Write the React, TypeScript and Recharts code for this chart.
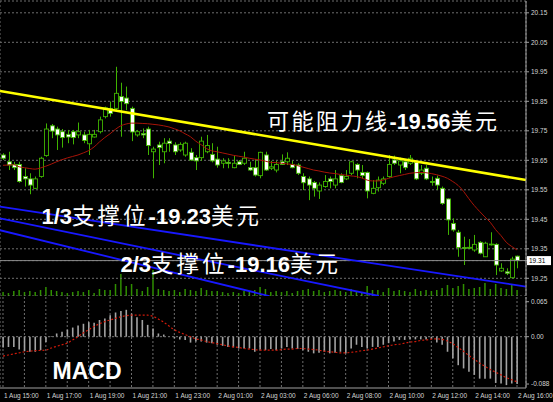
import React from 'react';
import { ComposedChart, Bar, Line, XAxis, YAxis, CartesianGrid, ReferenceLine } from 'recharts';

// 15-minute XAG/USD bars, 1 Aug 15:00 – 2 Aug 16:00
const opens = [
  19.668, 19.645, 19.636, 19.636, 19.595, 19.587, 19.555, 19.595, 19.666, 19.767,
  19.756, 19.747, 19.738, 19.747, 19.736, 19.736, 19.706, 19.729, 19.747, 19.798,
  19.826, 19.826, 19.866, 19.861, 19.826, 19.736, 19.741, 19.756, 19.679, 19.702,
  19.679, 19.715, 19.702, 19.685, 19.668, 19.677, 19.659, 19.659, 19.679, 19.670,
  19.654, 19.640, 19.643, 19.625, 19.645, 19.640, 19.625, 19.625, 19.598, 19.668,
  19.623, 19.617, 19.645, 19.645, 19.636, 19.634, 19.595, 19.587, 19.575, 19.546,
  19.561, 19.587, 19.566, 19.598, 19.587, 19.606, 19.636, 19.609, 19.609, 19.538,
  19.557, 19.572, 19.595, 19.651, 19.634, 19.645, 19.640, 19.643, 19.606, 19.623,
  19.578, 19.589, 19.555, 19.519, 19.436, 19.406, 19.354, 19.355, 19.346, 19.372,
  19.323, 19.366, 19.365, 19.275, 19.272, 19.252, 19.325,
];
const highs = [
  19.674, 19.679, 19.645, 19.645, 19.623, 19.606, 19.595, 19.662, 19.775, 19.773,
  19.764, 19.756, 19.753, 19.753, 19.778, 19.747, 19.753, 19.753, 19.798, 19.832,
  19.849, 19.967, 19.913, 19.900, 19.832, 19.753, 19.758, 19.764, 19.696, 19.713,
  19.725, 19.725, 19.711, 19.711, 19.713, 19.691, 19.668, 19.730, 19.736, 19.708,
  19.696, 19.657, 19.657, 19.666, 19.651, 19.679, 19.645, 19.654, 19.679, 19.679,
  19.648, 19.648, 19.670, 19.677, 19.648, 19.640, 19.606, 19.595, 19.580, 19.575,
  19.600, 19.595, 19.617, 19.606, 19.617, 19.648, 19.640, 19.634, 19.612, 19.583,
  19.595, 19.595, 19.668, 19.666, 19.659, 19.654, 19.668, 19.648, 19.634, 19.634,
  19.595, 19.598, 19.561, 19.521, 19.453, 19.414, 19.391, 19.383, 19.397, 19.376,
  19.374, 19.406, 19.369, 19.301, 19.284, 19.323, 19.327,
];
const lows = [
  19.651, 19.617, 19.617, 19.574, 19.561, 19.535, 19.553, 19.591, 19.662, 19.725,
  19.685, 19.693, 19.708, 19.704, 19.725, 19.708, 19.668, 19.727, 19.741, 19.792,
  19.798, 19.821, 19.730, 19.820, 19.715, 19.730, 19.725, 19.668, 19.589, 19.634,
  19.640, 19.679, 19.668, 19.679, 19.662, 19.648, 19.617, 19.648, 19.674, 19.643,
  19.625, 19.623, 19.623, 19.623, 19.634, 19.634, 19.614, 19.595, 19.589, 19.614,
  19.617, 19.609, 19.634, 19.634, 19.623, 19.600, 19.549, 19.515, 19.527, 19.519,
  19.557, 19.555, 19.555, 19.572, 19.583, 19.600, 19.589, 19.589, 19.521, 19.535,
  19.544, 19.566, 19.591, 19.634, 19.606, 19.617, 19.634, 19.583, 19.600, 19.583,
  19.564, 19.549, 19.499, 19.397, 19.408, 19.323, 19.295, 19.349, 19.340, 19.331,
  19.323, 19.361, 19.261, 19.272, 19.261, 19.250, 19.284,
];
const closes = [
  19.657, 19.634, 19.625, 19.578, 19.587, 19.566, 19.587, 19.657, 19.756, 19.749,
  19.736, 19.727, 19.729, 19.727, 19.747, 19.717, 19.738, 19.738, 19.787, 19.828,
  19.809, 19.877, 19.849, 19.842, 19.746, 19.747, 19.736, 19.700, 19.688, 19.693,
  19.708, 19.707, 19.679, 19.704, 19.708, 19.651, 19.648, 19.715, 19.700, 19.648,
  19.634, 19.648, 19.639, 19.640, 19.636, 19.657, 19.617, 19.600, 19.677, 19.617,
  19.628, 19.636, 19.636, 19.657, 19.625, 19.606, 19.574, 19.566, 19.555, 19.566,
  19.578, 19.578, 19.587, 19.575, 19.595, 19.645, 19.617, 19.598, 19.546, 19.555,
  19.583, 19.587, 19.636, 19.640, 19.648, 19.625, 19.657, 19.587, 19.617, 19.587,
  19.576, 19.566, 19.504, 19.448, 19.414, 19.354, 19.353, 19.352, 19.365, 19.335,
  19.369, 19.365, 19.295, 19.284, 19.267, 19.315, 19.310,
];
const movingAvg = [
  19.633, 19.634, 19.635, 19.628, 19.625, 19.622, 19.620, 19.624, 19.630, 19.637,
  19.645, 19.652, 19.658, 19.663, 19.668, 19.675, 19.683, 19.695, 19.712, 19.727,
  19.740, 19.755, 19.767, 19.773, 19.776, 19.776, 19.775, 19.774, 19.772, 19.770,
  19.767, 19.763, 19.757, 19.750, 19.740, 19.730, 19.715, 19.703, 19.690, 19.682,
  19.679, 19.675, 19.671, 19.667, 19.664, 19.661, 19.657, 19.654, 19.651, 19.647,
  19.643, 19.642, 19.640, 19.638, 19.636, 19.632, 19.627, 19.622, 19.617, 19.614,
  19.610, 19.607, 19.605, 19.602, 19.600, 19.597, 19.595, 19.590, 19.583, 19.580,
  19.580, 19.583, 19.589, 19.594, 19.598, 19.602, 19.606, 19.608, 19.609, 19.608,
  19.605, 19.601, 19.596, 19.589, 19.578, 19.565, 19.545, 19.520, 19.497, 19.477,
  19.458, 19.440, 19.415, 19.395, 19.372, 19.358, 19.346,
];
const tickVolumes = [
  160, 120, 200, 240, 160, 200, 160, 240, 360, 240,
  200, 160, 120, 160, 200, 160, 240, 120, 280, 240,
  240, 480, 880, 400, 480, 280, 200, 360, 1040, 280,
  240, 200, 240, 160, 280, 240, 200, 320, 240, 200,
  200, 160, 120, 160, 120, 200, 160, 240, 360, 280,
  160, 200, 160, 200, 120, 200, 240, 280, 200, 240,
  160, 200, 240, 200, 160, 280, 200, 160, 400, 240,
  240, 160, 320, 200, 240, 200, 160, 280, 200, 240,
  200, 240, 320, 440, 320, 400, 480, 280, 320, 360,
  520, 280, 480, 320, 280, 440, 240,
];
const macdHist = [
  -0.020, -0.019, -0.019, -0.024, -0.027, -0.028, -0.028, -0.025, -0.010, 0.001,
  0.006, 0.009, 0.013, 0.017, 0.021, 0.024, 0.027, 0.026, 0.031, 0.034,
  0.040, 0.045, 0.048, 0.050, 0.043, 0.036, 0.031, 0.022, 0.015, 0.006,
  0.004, 0.000, -0.003, -0.005, -0.006, -0.011, -0.009, -0.009, -0.011, -0.012,
  -0.015, -0.017, -0.019, -0.020, -0.022, -0.022, -0.022, -0.028, -0.024, -0.025,
  -0.023, -0.025, -0.022, -0.019, -0.022, -0.023, -0.025, -0.028, -0.031, -0.030,
  -0.028, -0.031, -0.030, -0.028, -0.031, -0.022, -0.015, -0.019, -0.022, -0.019,
  -0.019, -0.015, -0.012, -0.009, -0.006, -0.006, -0.005, -0.005, -0.005, -0.005,
  -0.004, -0.011, -0.015, -0.028, -0.040, -0.053, -0.059, -0.065, -0.071, -0.078,
  -0.078, -0.078, -0.086, -0.087, -0.090, -0.087, -0.088,
];
const macdSignal = [
  -0.036, -0.034, -0.032, -0.030, -0.028, -0.027, -0.026, -0.0255, -0.025, -0.021,
  -0.018, -0.015, -0.012, -0.006, 0.000, 0.007, 0.013, 0.019, 0.024, 0.028,
  0.031, 0.034, 0.037, 0.039, 0.040, 0.040, 0.040, 0.040, 0.038, 0.033,
  0.027, 0.020, 0.013, 0.008, 0.004, 0.000, -0.004, -0.006, -0.009, -0.011,
  -0.013, -0.015, -0.017, -0.019, -0.020, -0.022, -0.023, -0.024, -0.025, -0.025,
  -0.025, -0.025, -0.024, -0.023, -0.023, -0.022, -0.022, -0.023, -0.024, -0.025,
  -0.027, -0.028, -0.029, -0.030, -0.030, -0.029, -0.028, -0.026, -0.025, -0.023,
  -0.021, -0.019, -0.017, -0.015, -0.014, -0.012, -0.010, -0.009, -0.007, -0.006,
  -0.0045, -0.004, -0.005, -0.008, -0.013, -0.020, -0.027, -0.035, -0.042, -0.049,
  -0.055, -0.061, -0.066, -0.071, -0.076, -0.080, -0.084,
];

const timeLabels = [
  '1 Aug 15:00', '1 Aug 17:00', '1 Aug 19:00', '1 Aug 21:00', '1 Aug 23:00',
  '2 Aug 01:00', '2 Aug 03:00', '2 Aug 06:00', '2 Aug 08:00', '2 Aug 10:00',
  '2 Aug 12:00', '2 Aug 14:00', '2 Aug 16:00',
];
const priceTicks = [20.15, 20.05, 19.95, 19.85, 19.75, 19.65, 19.55, 19.45, 19.35, 19.31, 19.25];
const lastPrice = 19.31;
const macdTicks = [0.065, 0, -0.088];
const macdTickLabels = ['0.065', '0.00', '-0.088'];

// trend lines as [barIndex, price] endpoints
const resistanceLine = [[-0.56, 19.885], [97.68, 19.583]];
const supportLines = [
  [[-0.56, 19.493], [97.68, 19.222]],
  [[-0.56, 19.453], [70.2, 19.19]],
  [[-0.56, 19.413], [49.7, 19.19]],
];

const rows = opens.map((o, i) => ({
  i,
  open: o,
  high: highs[i],
  low: lows[i],
  close: closes[i],
  range: [lows[i], highs[i]],
  ma: movingAvg[i],
  vol: tickVolumes[i],
  hist: macdHist[i],
  signal: macdSignal[i],
}));

const X_DOMAIN: [number, number] = [-0.56, 97.68];
const gridTicks = Array.from({ length: 25 }, (_, k) => k * 4);
const GREEN = '#3fb300';
const AXIS_TEXT = '#d4d4d4';
const GRID = '#6e6e6e';
const LATIN = '"Liberation Sans", Arial, sans-serif';
const CJK = '"Noto Sans CJK SC", sans-serif';

const Candle = (props: any) => {
  const { x, y, width, height, payload } = props;
  const { open, close, high, low } = payload;
  const top = Math.min(y, y + height);
  const h = Math.abs(height);
  const k = high > low ? h / (high - low) : 0;
  const cx = Math.round(x + width / 2) + 0.5;
  const py = (v: number) => top + (high - v) * k;
  const yo = py(open);
  const yc = py(close);
  const bull = close >= open;
  const bodyTop = Math.min(yo, yc);
  const bodyH = Math.max(Math.abs(yo - yc), 0.8);
  return (
    <g>
      <line x1={cx} x2={cx} y1={top} y2={top + h} stroke={GREEN} strokeWidth={1} />
      <rect
        x={cx - 2}
        y={bodyTop}
        width={4}
        height={bodyH}
        fill={bull ? '#000' : '#fff'}
        stroke={GREEN}
        strokeWidth={0.9}
      />
    </g>
  );
};

const PriceTick = ({ x, y, payload }: any) => {
  const v = payload.value;
  if (v === lastPrice) {
    return (
      <g>
        <rect x={x - 4} y={y - 4.5} width={24} height={9} fill="#fff" />
        <text x={x - 2} y={y + 2.4} fontSize={6.5} fontFamily={LATIN} fill="#000">
          {v.toFixed(2)}
        </text>
      </g>
    );
  }
  return (
    <text x={x} y={y + 2.4} fontSize={6.5} fontFamily={LATIN} fill={AXIS_TEXT}>
      {v.toFixed(2)}
    </text>
  );
};

const MacdTick = ({ x, y, payload }: any) => (
  <text x={x} y={y + 2.4} fontSize={6.5} fontFamily={LATIN} fill={AXIS_TEXT}>
    {macdTickLabels[macdTicks.indexOf(payload.value)]}
  </text>
);

const TimeTick = ({ x, y, payload }: any) => {
  const k = payload.value / 8;
  if (!Number.isInteger(k)) return <g />;
  return (
    <text x={x + 1} y={y + 10} fontSize={6.5} fontFamily={LATIN} fill={AXIS_TEXT}>
      {timeLabels[k]}
    </text>
  );
};

export default function App() {
  return (
    <div
      style={{
        position: 'absolute',
        left: 0,
        top: 0,
        width: 553,
        height: 402,
        background: '#000',
        overflow: 'hidden',
      }}
    >
      {/* tick volume along the bottom of the price window */}
      <div style={{ position: 'absolute', left: 0, top: 0 }}>
        <ComposedChart width={553} height={296} data={rows} margin={{ top: 1, right: 27, bottom: 0, left: 0 }}>
          <XAxis dataKey="i" type="number" domain={X_DOMAIN} allowDataOverflow hide />
          <YAxis yAxisId="v" domain={[0, 11800]} hide />
          <Bar yAxisId="v" dataKey="vol" fill="#2f8f00" barSize={1.5} isAnimationActive={false} />
        </ComposedChart>
      </div>

      {/* price window */}
      <div style={{ position: 'absolute', left: 0, top: 0 }}>
        <ComposedChart width={553} height={296} data={rows} margin={{ top: 1, right: 0, bottom: 0, left: 0 }}>
          <CartesianGrid yAxisId="p" stroke={GRID} strokeDasharray="2 2" />
          <XAxis
            dataKey="i"
            type="number"
            domain={X_DOMAIN}
            allowDataOverflow
            ticks={gridTicks}
            height={0}
            tick={false}
            tickLine={false}
            axisLine={{ stroke: '#a8a8a8', strokeWidth: 2.5 }}
          />
          <YAxis
            yAxisId="p"
            orientation="right"
            width={27}
            domain={[19.19, 20.19]}
            allowDataOverflow
            ticks={priceTicks}
            interval={0}
            tickSize={3}
            tickMargin={2}
            tick={<PriceTick />}
            tickLine={{ stroke: '#a0a0a0' }}
            axisLine={{ stroke: '#a0a0a0' }}
          />
          <ReferenceLine yAxisId="p" y={lastPrice} stroke="#8a8a8a" strokeWidth={1} />
          {supportLines.map((seg, n) => (
            <ReferenceLine
              key={n}
              yAxisId="p"
              segment={seg.map(([x, y]) => ({ x, y }))}
              stroke="#1818ff"
              strokeWidth={1.8}
              ifOverflow="visible"
            />
          ))}
          <ReferenceLine
            yAxisId="p"
            segment={resistanceLine.map(([x, y]) => ({ x, y }))}
            stroke="#ffff00"
            strokeWidth={2.6}
            ifOverflow="visible"
          />
          <Line
            yAxisId="p"
            dataKey="ma"
            type="monotone"
            stroke="#a81408"
            strokeWidth={1}
            dot={false}
            isAnimationActive={false}
          />
          <Bar yAxisId="p" dataKey="range" barSize={4} shape={<Candle />} isAnimationActive={false} />
        </ComposedChart>
      </div>

      {/* MACD window */}
      <div style={{ position: 'absolute', left: 0, top: 296 }}>
        <ComposedChart width={553} height={106} data={rows} margin={{ top: 1, right: 0, bottom: 0, left: 0 }}>
          <CartesianGrid yAxisId="m" horizontal={false} stroke={GRID} strokeDasharray="2 2" />
          <XAxis
            dataKey="i"
            type="number"
            domain={X_DOMAIN}
            allowDataOverflow
            ticks={gridTicks}
            interval={0}
            height={14}
            tickSize={0}
            tickMargin={0}
            tick={<TimeTick />}
            axisLine={{ stroke: '#a0a0a0' }}
          />
          <YAxis
            yAxisId="m"
            orientation="right"
            width={27}
            domain={[-0.0954, 0.0738]}
            allowDataOverflow
            ticks={macdTicks}
            interval={0}
            tickSize={3}
            tickMargin={2}
            tick={<MacdTick />}
            tickLine={{ stroke: '#a0a0a0' }}
            axisLine={{ stroke: '#a0a0a0' }}
          />
          <ReferenceLine yAxisId="m" y={0} stroke="#7a7a7a" strokeDasharray="2 2" />
          <Bar yAxisId="m" dataKey="hist" fill="#a3a3a3" barSize={1.6} isAnimationActive={false} />
          <Line
            yAxisId="m"
            dataKey="signal"
            type="monotone"
            stroke="#d01a0a"
            strokeWidth={1.2}
            strokeDasharray="2 2"
            dot={false}
            isAnimationActive={false}
          />
        </ComposedChart>
      </div>

      {/* annotations */}
      <svg
        width={553}
        height={402}
        style={{ position: 'absolute', left: 0, top: 0, pointerEvents: 'none' }}
      >
        <text x={267} y={129} fill="#fff">
          <tspan fontFamily={CJK} fontSize={22} letterSpacing={2.5}>可能阻力线</tspan>
          <tspan fontFamily={LATIN} fontWeight="bold" fontSize={21.5}>-19.56</tspan>
          <tspan fontFamily={CJK} fontSize={22} letterSpacing={2.5}>美元</tspan>
        </text>
        <text x={41.5} y={223.5} fill="#fff">
          <tspan fontFamily={LATIN} fontWeight="bold" fontSize={22}>1/3</tspan>
          <tspan fontFamily={CJK} fontSize={22.5} letterSpacing={3}>支撑位</tspan>
          <tspan fontFamily={LATIN} fontWeight="bold" fontSize={22}>-19.23</tspan>
          <tspan fontFamily={CJK} fontSize={22.5} letterSpacing={3}>美元</tspan>
        </text>
        <text x={120.5} y={271.5} fill="#fff">
          <tspan fontFamily={LATIN} fontWeight="bold" fontSize={22}>2/3</tspan>
          <tspan fontFamily={CJK} fontSize={22.5} letterSpacing={3}>支撑位</tspan>
          <tspan fontFamily={LATIN} fontWeight="bold" fontSize={22}>-19.16</tspan>
          <tspan fontFamily={CJK} fontSize={22.5} letterSpacing={3}>美元</tspan>
        </text>
        <text x={52.5} y={378.5} fill="#fff" fontFamily={LATIN} fontWeight="bold" fontSize={23}>
          MACD
        </text>
      </svg>
    </div>
  );
}
